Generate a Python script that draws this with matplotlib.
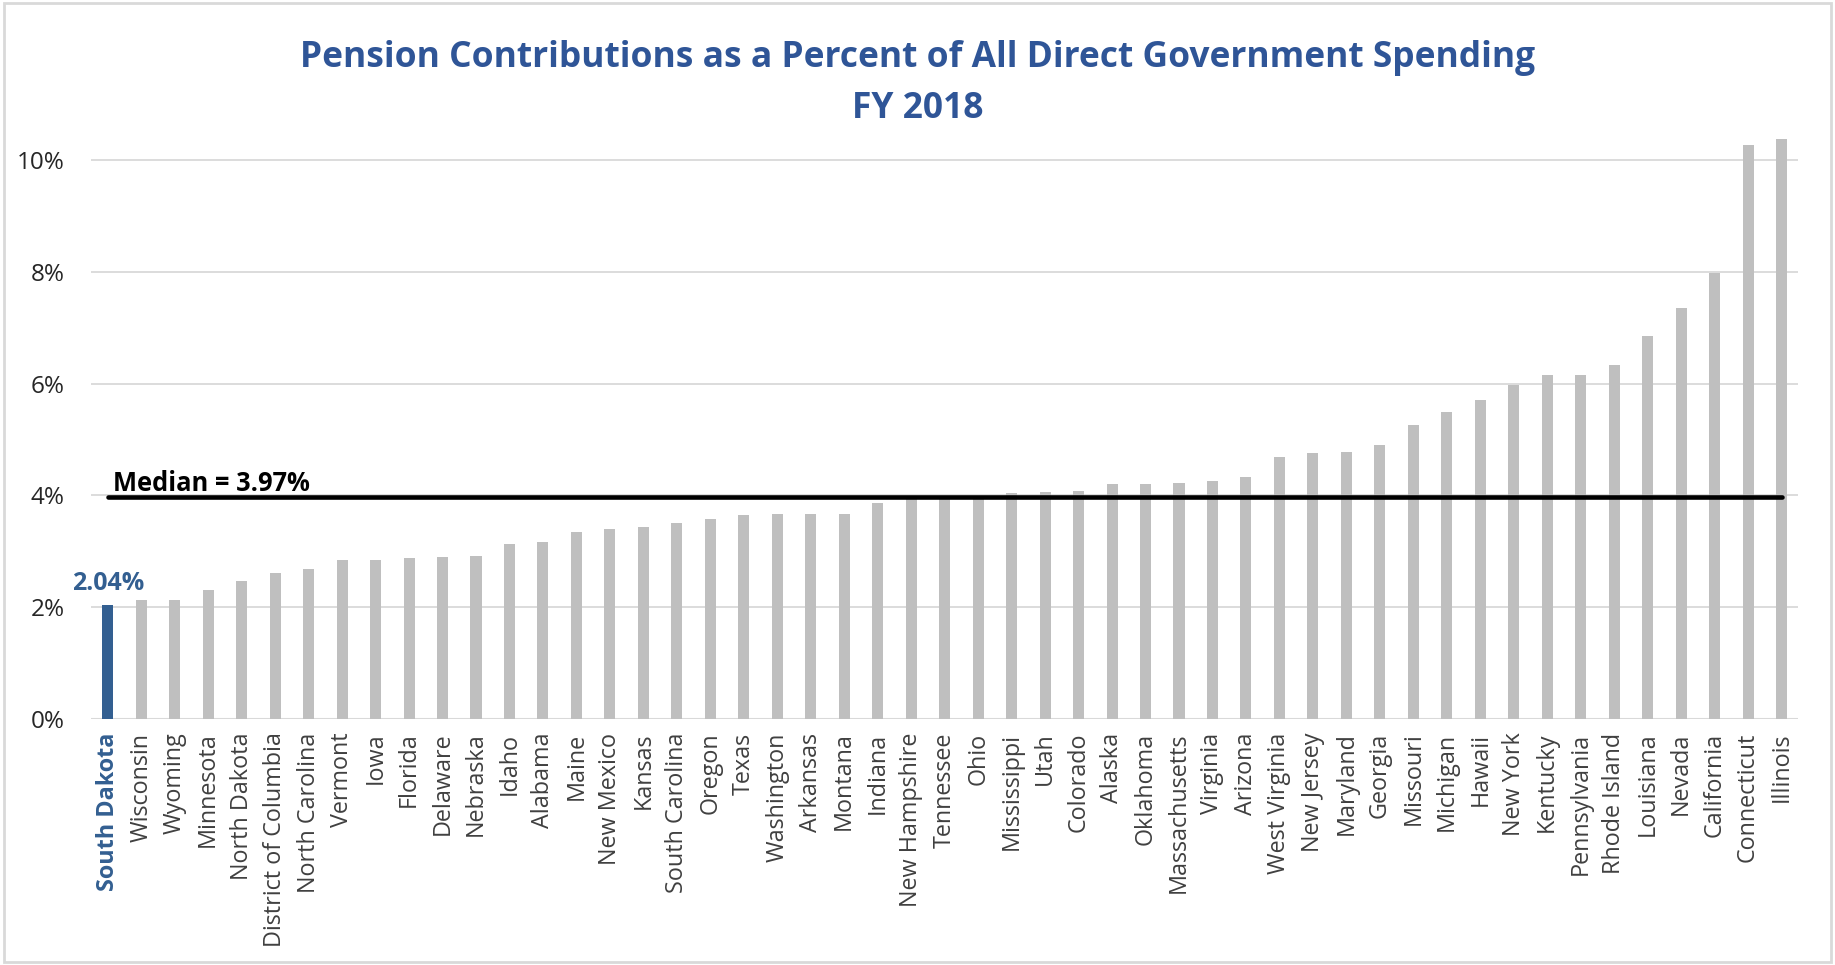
import numpy as np
import matplotlib.pyplot as plt
from matplotlib.patches import Rectangle
from matplotlib.ticker import FuncFormatter

plt.rcParams['font.family'] = ['Open Sans', 'DejaVu Sans']

# --- data ---------------------------------------------------------
states = ["South Dakota", "Wisconsin", "Wyoming", "Minnesota", "North Dakota",
          "District of Columbia", "North Carolina", "Vermont", "Iowa", "Florida",
          "Delaware", "Nebraska", "Idaho", "Alabama", "Maine", "New Mexico",
          "Kansas", "South Carolina", "Oregon", "Texas", "Washington", "Arkansas",
          "Montana", "Indiana", "New Hampshire", "Tennessee", "Ohio", "Mississippi",
          "Utah", "Colorado", "Alaska", "Oklahoma", "Massachusetts", "Virginia",
          "Arizona", "West Virginia", "New Jersey", "Maryland", "Georgia",
          "Missouri", "Michigan", "Hawaii", "New York", "Kentucky", "Pennsylvania",
          "Rhode Island", "Louisiana", "Nevada", "California", "Connecticut",
          "Illinois"]

pct = [2.04, 2.13, 2.13, 2.31, 2.47, 2.61, 2.68, 2.84, 2.84, 2.87,
       2.89, 2.91, 3.13, 3.16, 3.34, 3.39, 3.44, 3.50, 3.58, 3.64,
       3.67, 3.67, 3.67, 3.87, 3.95, 3.97, 3.98, 4.05, 4.06, 4.08,
       4.20, 4.20, 4.22, 4.25, 4.33, 4.68, 4.75, 4.78, 4.90, 5.26,
       5.49, 5.70, 5.97, 6.15, 6.15, 6.34, 6.86, 7.36, 7.98, 10.27,
       10.38]

median = 3.97
highlight = "South Dakota"
yticks = [0, 2, 4, 6, 8, 10]

blue = "#335F91"
grey = "#BFBFBF"
title_blue = "#2F5597"

# --- figure -------------------------------------------------------
fig = plt.figure(figsize=(18.35, 9.65), dpi=100)
ax = fig.add_axes([0.0496, 0.2553, 0.9304, 0.6075])

x = np.arange(len(states))
colors = [blue if s == highlight else grey for s in states]
ax.bar(x, pct, width=0.33, color=colors, zorder=3)

ax.set_xlim(-0.5, len(states) - 0.5)
ax.set_ylim(0, 10.5)
ax.set_yticks(yticks)
ax.yaxis.set_major_formatter(FuncFormatter(lambda v, p: f"{v:.0f}%"))
ax.grid(axis="y", color="#D9D9D9", linewidth=1.3, zorder=0)
ax.tick_params(axis="y", length=0, labelsize=17.5, pad=19, labelcolor="#262626")
for s in ax.spines.values():
    s.set_visible(False)
ax.axhline(0, color="#D9D9D9", linewidth=1.5, zorder=1)

ax.set_xticks(x)
ax.set_xticklabels(states, rotation=90, fontsize=16.8, color="#404040")
ax.tick_params(axis="x", length=0, pad=10)
for lbl in ax.get_xticklabels():
    if lbl.get_text() == highlight:
        lbl.set_color(blue)
        lbl.set_fontweight("bold")

# median line + label
ax.plot([x[0], x[-1]], [median, median], color="black", linewidth=3.3,
        solid_capstyle="round", zorder=4)
ax.annotate(f"Median = {median:.2f}%", (x[0], median), xytext=(4, 0),
            textcoords="offset points", fontsize=18.4, fontweight="bold",
            ha="left", va="bottom", zorder=5)

# highlight label
i0 = states.index(highlight)
ax.annotate(f"{pct[i0]:.2f}%", (x[i0], pct[i0]), xytext=(0, 6),
            textcoords="offset points", fontsize=18, fontweight="bold",
            color=blue, ha="center", va="bottom", zorder=5)

fig.text(0.5, 0.940, "Pension Contributions as a Percent of All Direct Government Spending",
         ha="center", va="center", fontsize=25.5, fontweight="bold",
         color=title_blue)
fig.text(0.5, 0.887, "FY 2018", ha="center", va="center", fontsize=25.5,
         fontweight="bold", color=title_blue)

fig.patches.append(Rectangle((0.002, 0.003), 0.996, 0.994, transform=fig.transFigure,
                             fill=False, edgecolor="#D9D9D9", linewidth=2))

fig.savefig("out.png", dpi=100)
